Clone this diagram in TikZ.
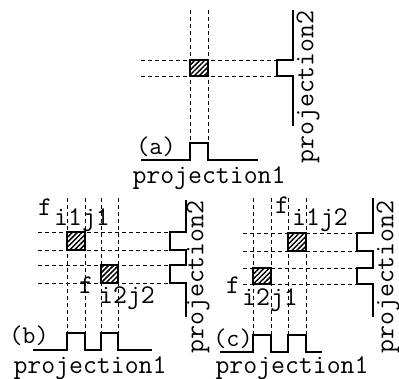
\documentclass[tikz,border=0pt]{standalone}
\usepackage{fontspec}
\usetikzlibrary{patterns.meta}
\begin{document}
\begin{tikzpicture}[x=1pt,y=-1pt,
  grid/.style={dash pattern=on 4pt off 3pt, line width=0.8pt},
  prof/.style={line width=1.6pt, line join=miter},
  cell/.style={draw, line width=1.8pt, pattern={Lines[angle=45,distance=3.5pt,line width=1.5pt]}},
  lbl/.style={inner sep=0pt, font=\ttfamily\fontsize{27}{28}\selectfont},
  tag/.style={inner sep=0pt, font=\ttfamily\fontsize{25.5}{26}\selectfont}]
\useasboundingbox (0,0) rectangle (399,379);
% ---------- (a)
\foreach \x in {190,208} \draw[grid] (\x,10) -- (\x,143);
\foreach \y in {60,76} \draw[grid] (141,\y) -- (277,\y);
\draw[cell] (190,60) rectangle (208,76);
\draw[prof] (293,10) -- (293,60) -- (277,60) -- (277,76) -- (293,76) -- (293,126);
\draw[prof] (141,160) -- (190,160) -- (190,143) -- (208,143) -- (208,160) -- (258,160);
\node[tag] (la) at (156,147) {(a)};
\node[lbl] (pa1) at (209,178) {projection1};
\node[lbl, rotate=90] (pa2) at (308,87) {projection2};
% ---------- (b)
\foreach \x in {67,85,101,118} \draw[grid] (\x,198) -- (\x,333);
\foreach \y in {232,250,265,283} \draw[grid] (38,\y) -- (170,\y);
\draw[cell] (67,232) rectangle (85,250);
\draw[cell] (101,265) rectangle (118,283);
\draw[prof] (186,200) -- (186,232) -- (170,232) -- (170,250) -- (186,250) -- (186,265) -- (170,265) -- (170,283) -- (186,283) -- (186,317);
\draw[prof] (33,350) -- (67,350) -- (67,333) -- (85,333) -- (85,350) -- (101,350) -- (101,333) -- (118,333) -- (118,350) -- (152,350);
\node[tag] (lb) at (29,336) {(b)};
\node[lbl] (pb1) at (90,368) {projection1};
\node[lbl, rotate=90] (pb2) at (198,277) {projection2};
\node[lbl] (fb1) at (45,207) {f};
\node[lbl] (sb1) at (82,220) {i1j1};
\node[lbl] (fb2) at (86,285) {f};
\node[lbl] (sb2) at (127,298) {i2j2};
% ---------- (c)
\foreach \x in {253,271,288,306} \draw[grid] (\x,198) -- (\x,335);
\foreach \y in {233,251,268,284} \draw[grid] (243,\y) -- (357,\y);
\draw[cell] (288,233) rectangle (306,251);
\draw[cell] (253,268) rectangle (271,284);
\draw[prof] (373,198) -- (373,233) -- (357,233) -- (357,251) -- (373,251) -- (373,268) -- (357,268) -- (357,284) -- (373,284) -- (373,317);
\draw[prof] (220,352) -- (253,352) -- (253,335) -- (271,335) -- (271,352) -- (288,352) -- (288,335) -- (306,335) -- (306,352) -- (322,352);
\node[tag] (lc) at (233,339) {(c)};
\node[lbl] (pc1) at (292,368) {projection1};
\node[lbl, rotate=90] (pc2) at (388,277) {projection2};
\node[lbl] (fc1) at (282,205) {f};
\node[lbl] (sc1) at (320,220) {i1j2};
\node[lbl] (fc2) at (233,285) {f};
\node[lbl] (sc2) at (270,300) {i2j1};
\end{tikzpicture}
\end{document}
